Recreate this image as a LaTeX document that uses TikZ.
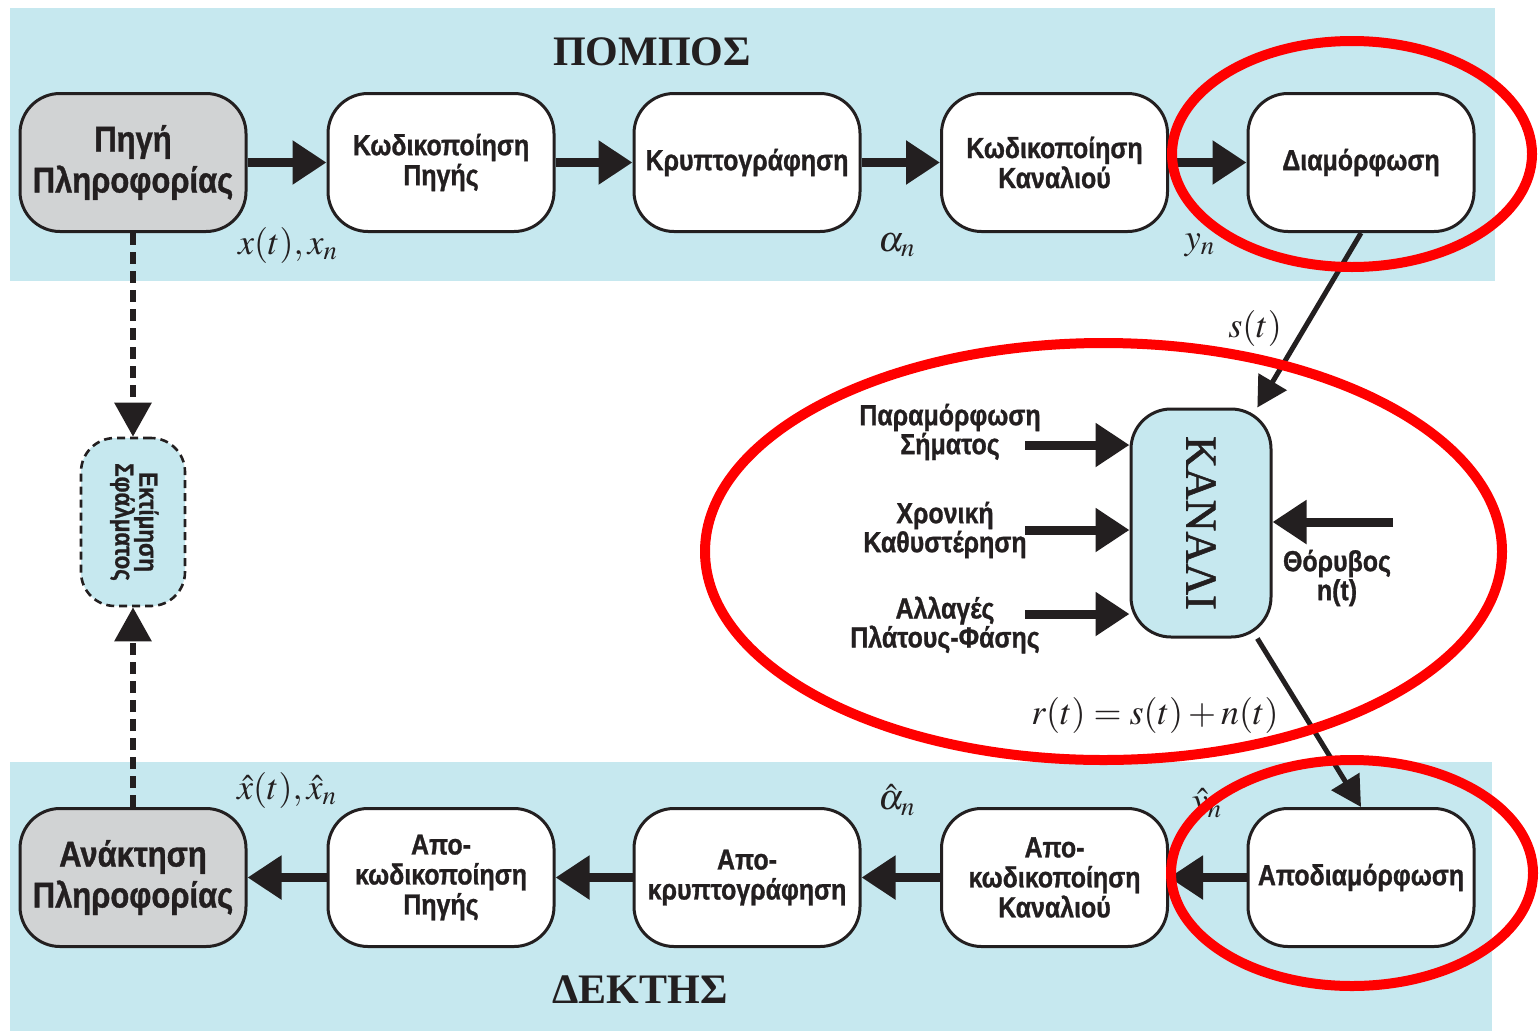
\documentclass[tikz,border=0pt]{standalone}
\usepackage{mathptmx}
\usepackage{fontspec}
\setmainfont{Liberation Serif}
\newfontfamily\boxfont[FakeStretch=0.86, BoldFeatures={FakeBold=1}]{Liberation Sans}
\newfontfamily\kanfont[FakeBold=1.2]{Liberation Serif}
\usetikzlibrary{arrows.meta}
\definecolor{band}{RGB}{198,232,239}
\definecolor{ink}{RGB}{35,31,32}
\definecolor{srcgray}{RGB}{209,211,212}
\definecolor{mark}{RGB}{255,0,0}
\tikzset{
  blk/.style={draw=ink, line width=1.5pt, rounded corners=20pt, fill=white,
    minimum width=113pt, minimum height=69pt, inner sep=0pt, align=center,
    text=ink, font=\boxfont\bfseries\fontsize{14.5}{15}\selectfont},
  endblk/.style={blk, fill=srcgray, font=\boxfont\bfseries\fontsize{18}{20.5}\selectfont},
  flow/.style={draw=ink, line width=4.5pt, -{Triangle[length=17pt,width=21pt]}},
  sig/.style={draw=ink, line width=2.5pt, -{Triangle[length=15pt,width=16pt]}},
  feed/.style={draw=ink, line width=3pt, dash pattern=on 6pt off 3.5pt,
    -{Triangle[length=17pt,width=18pt]}},
  lbl/.style={text=ink, font=\fontsize{18}{20}\selectfont},
  side/.style={text=ink, align=center, font=\boxfont\bfseries\fontsize{14.5}{14.5}\selectfont},
  title/.style={text=ink, font=\bfseries\fontsize{21}{24}\selectfont},
  ring/.style={draw=mark, line width=5pt}
}
\begin{document}
\begin{tikzpicture}[x=0.5pt, y=-0.5pt]
\useasboundingbox (0,0) rectangle (1540,1033);

% transmitter and receiver bands
\fill[band] (10,8) rectangle (1495,281);
\fill[band] (10,762) rectangle (1492,1031);
\node[title] (tx) at (652,52) {ΠΟΜΠΟΣ};
\node[title] (rx) at (640,990) {ΔΕΚΤΗΣ};

% transmitter chain
\node[endblk] (src) at (133,162.5) {Πηγή\\Πληροφορίας};
\node[blk] (senc) at (441,162.5) {Κωδικοποίηση\\Πηγής};
\node[blk] (crypt) at (747,162.5) {Κρυπτογράφηση};
\node[blk] (cenc) at (1054.5,162.5) {Κωδικοποίηση\\Καναλιού};
\node[blk] (mod) at (1361,162.5) {Διαμόρφωση};

% receiver chain
\node[endblk] (sink) at (133,877.5) {Ανάκτηση\\Πληροφορίας};
\node[blk] (sdec) at (441,877.5) {Απο-\\κωδικοποίηση\\Πηγής};
\node[blk] (decr) at (747,877.5) {Απο-\\κρυπτογράφηση};
\node[blk] (cdec) at (1054.5,877.5) {Απο-\\κωδικοποίηση\\Καναλιού};
\node[blk] (demod) at (1361,877.5) {Αποδιαμόρφωση};

\draw[flow] (src) -- (senc);
\draw[flow] (senc) -- (crypt);
\draw[flow] (crypt) -- (cenc);
\draw[flow] (cenc) -- (mod);
\draw[flow] (demod) -- (cdec);
\draw[flow] (cdec) -- (decr);
\draw[flow] (decr) -- (sdec);
\draw[flow] (sdec) -- (sink);

% signal labels
\node[lbl] (lx) at (288,245) {$x(t),x_n$};
\node[lbl] (la) at (897,245) {$\alpha_n$};
\node[lbl] (ly) at (1200,245) {$y_n$};
\node[lbl] (lxh) at (287,790) {$\hat{x}(t),\hat{x}_n$};
\node[lbl] (lah) at (897,800) {$\hat{\alpha}_n$};
\node[lbl] (lyh) at (1207,804) {$\hat{y}_n$};

% error estimation feedback
\node[draw=ink, line width=1.3pt, dash pattern=on 4pt off 2.5pt, rounded corners=17pt,
  fill=band, minimum width=52pt, minimum height=84pt, inner sep=0pt,
  text=ink, font=\boxfont\bfseries\fontsize{13}{14}\selectfont] (est) at (133,522)
  {\rotatebox{-90}{\begin{tabular}{@{}c@{}}Εκτίμηση\\[-2pt]Σφάλματος\end{tabular}}};
\draw[feed] (src.south) -- (est.north);
\draw[feed] (sink.north) -- (est.south);

% channel
\node[draw=ink, line width=1.5pt, rounded corners=20pt, fill=band,
  minimum width=70pt, minimum height=114pt, inner sep=0pt, text=ink,
  font=\kanfont\fontsize{22}{24}\selectfont] (kan) at (1201,523) {\rotatebox{-90}{ΚΑΝΑΛΙ}};
\draw[sig] (mod.south) -- (kan.64);
\draw[sig] (kan.-64) -- (demod.north);
\node[lbl] (ls) at (1255,328) {$s(t)$};
\node[lbl] (lr) at (1155,715) {$r(t)=s(t)+n(t)$};

% channel impairments
\coordinate (d1) at (1025,445);
\coordinate (d2) at (1025,530);
\coordinate (d3) at (1025,614);
\coordinate (nz) at (1393,522);
\draw[flow] (d1) -- (kan.west |- d1);
\draw[flow] (d2) -- (kan.west |- d2);
\draw[flow] (d3) -- (kan.west |- d3);
\draw[flow] (nz) -- (kan.east |- nz);
\node[side] (t1) at (950,432) {Παραμόρφωση\\Σήματος};
\node[side] (t2) at (945,530) {Χρονική\\Καθυστέρηση};
\node[side] (t3) at (945,625) {Αλλαγές\\Πλάτους-Φάσης};
\node[side] (t4) at (1337,578) {Θόρυβος\\n(t)};

% highlight rings
\draw[ring] (1352,154) ellipse [x radius=90pt, y radius=56.5pt];
\draw[ring] (1103.5,551.5) ellipse [x radius=199.25pt, y radius=104.25pt];
\draw[ring] (1352,873) ellipse [x radius=90.5pt, y radius=56.5pt];
\end{tikzpicture}
\end{document}
